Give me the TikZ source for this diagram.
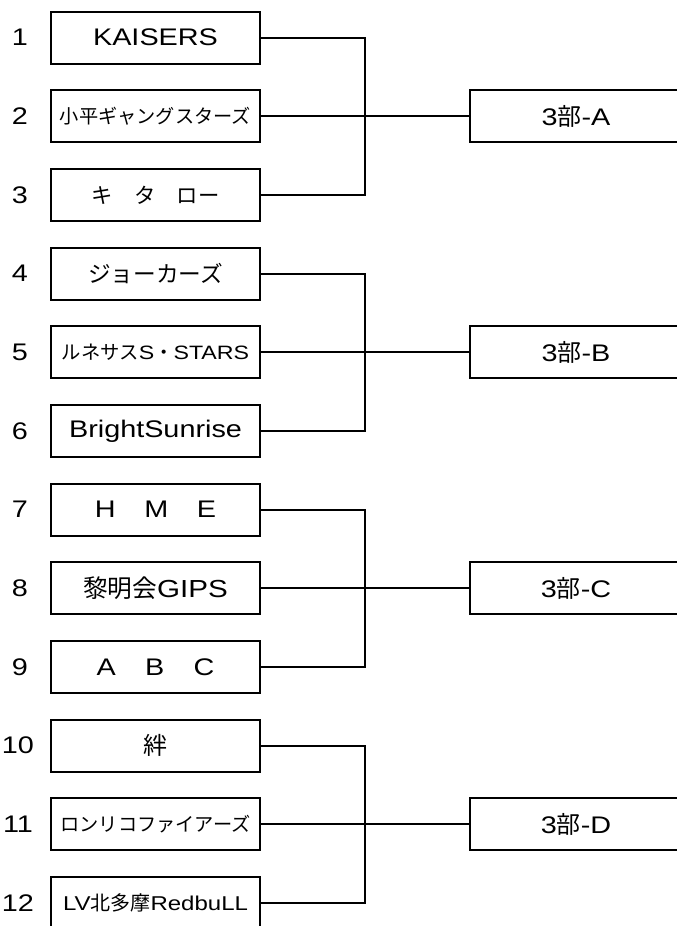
\documentclass[tikz,border=0pt]{standalone}
\usepackage{fontspec}
\setmainfont{Liberation Sans}[FakeStretch=1.2]
\newfontfamily\jp{Noto Sans CJK JP}
\usepackage{tikz}
\usetikzlibrary{positioning}
\tikzset{
  tm/.style={draw, line width=1.5pt, minimum width=156.75pt, minimum height=39pt,
             inner sep=0pt, align=center, font=\fontsize{18}{20}\selectfont},
  rs/.style={tm, minimum width=159pt},
  nm/.style={inner sep=0pt, font=\fontsize{18}{20}\selectfont},
  ln/.style={draw=black, line width=1.5pt},
}
\newcommand{\sz}[1]{\fontsize{#1}{#1}\selectfont}

\begin{document}
\begin{tikzpicture}[x=0.75pt, y=-0.75pt, node distance=18.5pt and 156pt]
  \useasboundingbox (0,0) rectangle (677,926);
  \node[tm] at (155.5,37.5) (t1) {KAISERS};
  \node[tm, below=of t1] (t2) {\jp\sz{14.4}小平ギャングスターズ};
  \node[tm, below=of t2] (t3) {\jp\sz{16}キ　タ　ロー};
  \node[tm, below=of t3] (t4) {\jp\sz{17}ジョーカーズ};
  \node[tm, below=of t4] (t5) {\sz{14.5}{\jp ルネサス}S{\jp ・}STARS};
  \node[tm, below=of t5] (t6) {BrightSunrise};
  \node[tm, below=of t6] (t7) {H\hspace{21.5pt}M\hspace{21.5pt}E};
  \node[tm, below=of t7] (t8) {\sz{18.5}{\jp 黎明会}GIPS};
  \node[tm, below=of t8] (t9) {A\hspace{22pt}B\hspace{22pt}C};
  \node[tm, below=of t9] (t10) {\jp 絆};
  \node[tm, below=of t10] (t11) {\jp\sz{14.4}ロンリコファイアーズ};
  \node[tm, below=of t11] (t12) {\sz{15}LV{\jp 北多摩}RedbuLL};

  \node[nm, left=22.5pt of t1.west, anchor=center] (n1) {1};
  \node[nm, left=22.5pt of t2.west, anchor=center] (n2) {2};
  \node[nm, left=22.5pt of t3.west, anchor=center] (n3) {3};
  \node[nm, left=22.5pt of t4.west, anchor=center] (n4) {4};
  \node[nm, left=22.5pt of t5.west, anchor=center] (n5) {5};
  \node[nm, left=22.5pt of t6.west, anchor=center] (n6) {6};
  \node[nm, left=22.5pt of t7.west, anchor=center] (n7) {7};
  \node[nm, left=22.5pt of t8.west, anchor=center] (n8) {8};
  \node[nm, left=22.5pt of t9.west, anchor=center] (n9) {9};
  \node[nm, left=24pt of t10.west, anchor=center] (n10) {10};
  \node[nm, left=24pt of t11.west, anchor=center] (n11) {11};
  \node[nm, left=24pt of t12.west, anchor=center] (n12) {12};

  \node[rs, right=of t2] (rA) {3{\jp 部}-A};
  \node[rs, right=of t5] (rB) {3{\jp 部}-B};
  \node[rs, right=of t8] (rC) {3{\jp 部}-C};
  \node[rs, right=of t11] (rD) {3{\jp 部}-D};

  \coordinate[right=78pt of t2.east] (jA);
  \coordinate[right=78pt of t5.east] (jB);
  \coordinate[right=78pt of t8.east] (jC);
  \coordinate[right=78pt of t11.east] (jD);

  \draw[ln] (t1.east) -| (jA) |- (t3.east);
  \draw[ln] (t2) -- (rA);
  \draw[ln] (t4.east) -| (jB) |- (t6.east);
  \draw[ln] (t5) -- (rB);
  \draw[ln] (t7.east) -| (jC) |- (t9.east);
  \draw[ln] (t8) -- (rC);
  \draw[ln] (t10.east) -| (jD) |- (t12.east);
  \draw[ln] (t11) -- (rD);
\end{tikzpicture}
\end{document}
